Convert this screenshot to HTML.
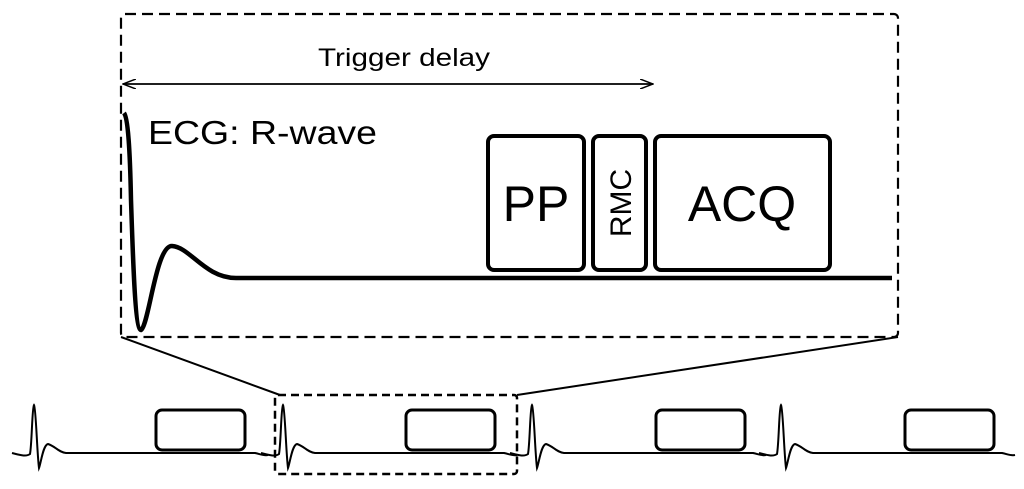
<!DOCTYPE html>
<html><head><style>body{margin:0;background:#fff}svg{display:block}</style></head>
<body>
<svg width="1024" height="489" viewBox="0 0 1024 489" xmlns="http://www.w3.org/2000/svg" font-family="Liberation Sans, sans-serif">
<defs>
<g id="s">
<path d="M0 0 C8 2 14 4 18 1 C20 -10 20 -45 22 -48 C24 -45 25 0 27 15 C29 10 31 -8 36 -9 C43 -7 46 -1 54 0 L243 0 C248 1 252 3 256 2" fill="none" stroke="#000" stroke-width="2"/>
</g>
<marker id="a" markerWidth="14" markerHeight="10" refX="13" refY="5" orient="auto-start-reverse" markerUnits="userSpaceOnUse"><path d="M0 0 L13 5 L0 10" fill="none" stroke="#000" stroke-width="1.5"/></marker>
</defs>
<rect x="121" y="14" width="777" height="323" rx="4" fill="none" stroke="#000" stroke-width="2.2" stroke-dasharray="11,6"/>
<line x1="123" y1="84" x2="653" y2="84" stroke="#000" stroke-width="1.8" marker-start="url(#a)" marker-end="url(#a)"/>
<text x="404" y="66" font-size="25" text-anchor="middle" textLength="172" lengthAdjust="spacingAndGlyphs">Trigger delay</text>
<text x="148" y="144" font-size="33" textLength="229" lengthAdjust="spacingAndGlyphs">ECG: R-wave</text>
<path d="M124 113 C128 118 130 150 131 200 C133 260 135 330 141 330 C149 325 156 245 172 246 C190 247 205 278 236 278 L892 278" fill="none" stroke="#000" stroke-width="4.5"/>
<rect x="488" y="136" width="96" height="134" rx="6" fill="none" stroke="#000" stroke-width="4"/>
<rect x="593" y="136" width="53" height="134" rx="6" fill="none" stroke="#000" stroke-width="4"/>
<rect x="655" y="136" width="175" height="134" rx="6" fill="none" stroke="#000" stroke-width="4"/>
<text x="536" y="221" font-size="50" text-anchor="middle">PP</text>
<text x="742" y="221" font-size="50" text-anchor="middle">ACQ</text>
<text transform="translate(631 203) rotate(-90)" font-size="30" text-anchor="middle">RMC</text>
<line x1="121" y1="337" x2="280" y2="395" stroke="#000" stroke-width="2"/>
<line x1="898" y1="337" x2="517" y2="395" stroke="#000" stroke-width="2"/>
<use href="#s" transform="translate(12 453)"/>
<use href="#s" transform="translate(261 453)"/>
<use href="#s" transform="translate(510 453)"/>
<use href="#s" transform="translate(759 453)"/>
<g fill="none" stroke="#000" stroke-width="3">
<rect x="156" y="410" width="89" height="40" rx="6"/>
<rect x="406" y="410" width="89" height="40" rx="6"/>
<rect x="656" y="410" width="89" height="40" rx="6"/>
<rect x="905" y="410" width="89" height="40" rx="6"/>
</g>
<rect x="275" y="395" width="242" height="79" rx="3" fill="none" stroke="#000" stroke-width="2.5" stroke-dasharray="8,5"/>
</svg>
</body></html>
